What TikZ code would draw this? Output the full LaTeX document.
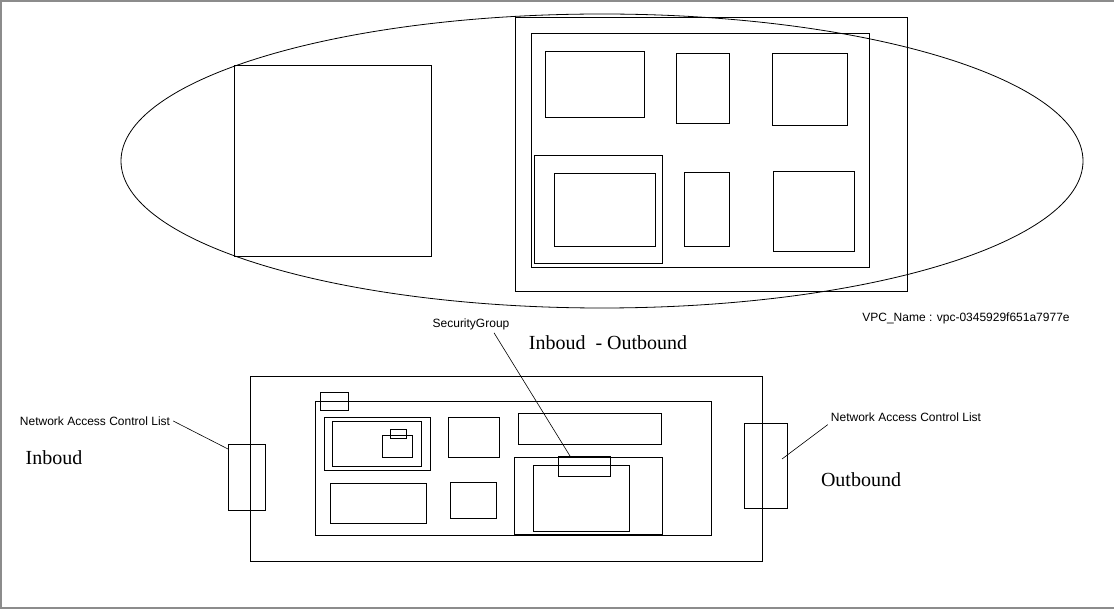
\documentclass[tikz,border=0pt]{standalone}
\usepackage{fontspec}
\setmainfont{Liberation Serif}
\newfontfamily\labelfont{Liberation Sans}
\usetikzlibrary{shapes.geometric}
\tikzset{
  box/.style={draw, rectangle, inner sep=0pt, outer sep=0pt, line width=1pt},
  note/.style={font=\labelfont\fontsize{12}{14}\selectfont, inner sep=3pt},
  bigtext/.style={font=\fontsize{20}{24}\selectfont, inner sep=2pt}
}
\begin{document}
\begin{tikzpicture}[x=1pt,y=-1pt]
\useasboundingbox (0,0) rectangle (1114,609);
\draw[gray!90, line width=2pt] (1114,1) -- (1,1) -- (1,607.5) -- (1114,607.5);

% top part
\node[draw, ellipse, inner sep=0pt, line width=0.8pt, minimum width=962pt, minimum height=294pt] (vpc) at (602,161) {};
\node[box, minimum width=197pt, minimum height=191pt] (left) at (332.5,161.5) {};
\node[box, minimum width=392pt, minimum height=274pt] (outer) at (711,155) {};
\node[box, minimum width=338pt, minimum height=234pt] (inner) at (700,151) {};
\node[box, minimum width=99pt, minimum height=66pt] (a) at (594.5,85) {};
\node[box, minimum width=53pt, minimum height=70pt] (b) at (702.5,89) {};
\node[box, minimum width=75pt, minimum height=72pt] (c) at (809.5,90) {};
\node[box, minimum width=128pt, minimum height=108pt] (d) at (598,210) {};
\node[box, minimum width=101pt, minimum height=73pt] (dd) at (604.5,210.5) {};
\node[box, minimum width=45pt, minimum height=74pt] (e) at (706.5,210) {};
\node[box, minimum width=81pt, minimum height=80pt] (f) at (813.5,212) {};
\node[note] (vpcname) at (966,318) {VPC\_Name : vpc-0345929f651a7977e};

% bottom part
\node[box, minimum width=512pt, minimum height=184pt] (subnet) at (506,469) {};
\node[box, minimum width=396pt, minimum height=133pt] (host) at (513,468.5) {};
\node[box, minimum width=28pt, minimum height=18pt] (tab) at (334,402) {};
\node[box, minimum width=106pt, minimum height=52pt] (g) at (377,444) {};
\node[box, minimum width=89pt, minimum height=44pt] (gg) at (376.5,444) {};
\node[box, minimum width=30pt, minimum height=21pt] (h) at (397,446.5) {};
\node[box, minimum width=16pt, minimum height=9pt] (hh) at (398,434.5) {};
\node[box, minimum width=51pt, minimum height=39pt] (j) at (473.5,437.5) {};
\node[box, minimum width=96pt, minimum height=40pt] (k) at (378,503) {};
\node[box, minimum width=46pt, minimum height=36pt] (l) at (473,500) {};
\node[box, minimum width=143pt, minimum height=31pt] (m) at (589.5,429.5) {};
\node[box, minimum width=148pt, minimum height=77pt] (n) at (588,495.5) {};
\node[box, minimum width=96pt, minimum height=66pt] (nn) at (581,498) {};
\node[box, minimum width=52pt, minimum height=20pt] (sg) at (584,466) {};
\node[box, minimum width=37pt, minimum height=65pt] (naclin) at (246.5,477.5) {};
\node[box, minimum width=43pt, minimum height=84pt] (naclout) at (765.5,466) {};

\node[note] (naclintxt) at (95,421) {Network Access Control List};
\node[note] (naclouttxt) at (906,417) {Network Access Control List};
\node[note] (sgtxt) at (471,324) {SecurityGroup};
\node[bigtext] (inbound) at (54,458) {Inboud};
\node[bigtext] (outbound) at (861,480) {Outbound};
\node[bigtext] (rules) at (608,343) {Inboud\ \ - Outbound};

\path[draw,line width=0.6pt] (naclintxt.east) -- ([yshift=-4pt]naclin.north west);
\path[draw,line width=0.6pt] (naclouttxt.south west) -- ([xshift=16.5pt,yshift=7pt]naclout.center);
\path[draw,line width=0.6pt] ([xshift=23pt]sgtxt.south) -- ([xshift=-14pt]sg.north);
\end{tikzpicture}
\end{document}
